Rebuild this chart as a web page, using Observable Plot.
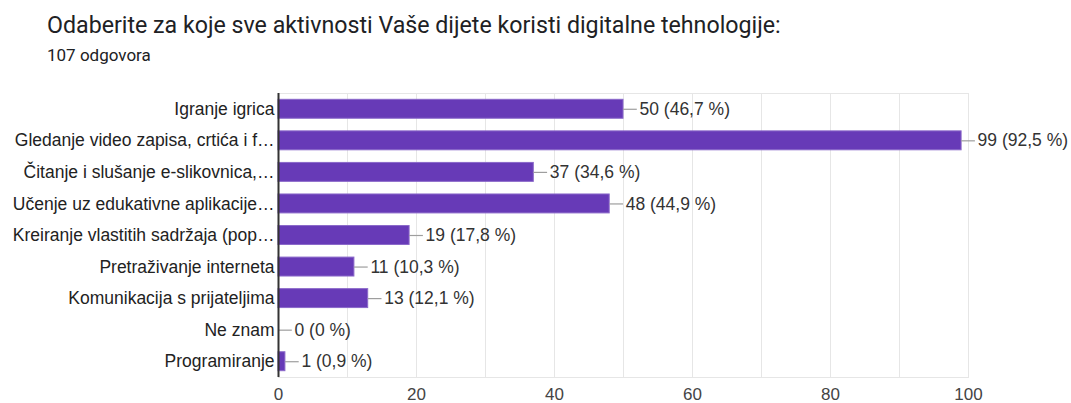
<!DOCTYPE html>
<html><head><meta charset="utf-8">
<script src="https://cdn.jsdelivr.net/npm/d3@7"></script>
<script src="https://cdn.jsdelivr.net/npm/@observablehq/plot@0.6"></script>
<style>
body{margin:0;background:#fff;width:1071px;height:403px;position:relative;overflow:hidden}
#title{position:absolute;left:47px;top:11px;font-family:Roboto,sans-serif;font-size:23.2px;line-height:normal;color:#202124;white-space:nowrap}
#sub{position:absolute;left:47px;top:45px;font-family:Roboto,sans-serif;font-size:17px;line-height:normal;color:#202124;white-space:nowrap}
#chart{position:absolute;left:0;top:80px}
</style></head>
<body>
<div id="title">Odaberite za koje sve aktivnosti Vaše dijete koristi digitalne tehnologije:</div>
<div id="sub">107 odgovora</div>
<div id="chart"></div>
<script>
const categories = [
  "Igranje igrica",
  "Gledanje video zapisa, crtića i f…",
  "Čitanje i slušanje e-slikovnica,…",
  "Učenje uz edukativne aplikacije…",
  "Kreiranje vlastitih sadržaja (pop…",
  "Pretraživanje interneta",
  "Komunikacija s prijateljima",
  "Ne znam",
  "Programiranje"
];
const counts = [50, 99, 37, 48, 19, 11, 13, 0, 1];
const percents = ["46,7", "92,5", "34,6", "44,9", "17,8", "10,3", "12,1", "0", "0,9"];
const xTicks = [0, 20, 40, 60, 80, 100];

const data = categories.map((c, i) => ({category: c, count: counts[i], pct: percents[i]}));
const FONT = "'Liberation Sans', Arial, sans-serif";

const chart = Plot.plot({
  width: 1071,
  height: 323,
  marginTop: 13,
  marginBottom: 26,
  marginLeft: 278,
  marginRight: 103,
  style: {fontFamily: FONT, fontSize: "17px", color: "#222", background: "#fff"},
  x: {domain: [0, 100]},
  y: {domain: categories, paddingInner: 0.4, paddingOuter: 0.2, round: false},
  marks: [
    Plot.gridX({interval: 10, stroke: "#e6e6e6", strokeOpacity: 1}),
    Plot.frame({stroke: "#e6e6e6"}),
    Plot.barX(data, {x: "count", y: "category", fill: "#673ab7", stroke: "#8a68c9", strokeWidth: 1}),
    Plot.ruleY(data, {y: "category", x1: "count", x2: d => d.count + 2, stroke: "#9e9e9e", strokeWidth: 1.2}),
    Plot.text(data, {x: "count", y: "category", text: d => `${d.count} (${d.pct} %)`, textAnchor: "start", dx: 16, fill: "#333", fontSize: 17.5, fontFamily: FONT}),
    Plot.ruleX([0], {stroke: "#333", strokeWidth: 2}),
    Plot.axisX({ticks: xTicks, tickSize: 0, tickPadding: 10, label: null, fontSize: 17, fontFamily: FONT, fill: "#444"}),
    Plot.axisY({tickSize: 0, tickPadding: 4, label: null, fontSize: 17.5, fontFamily: FONT, fill: "#222"})
  ]
});
document.getElementById("chart").append(chart);
</script>
</body></html>
